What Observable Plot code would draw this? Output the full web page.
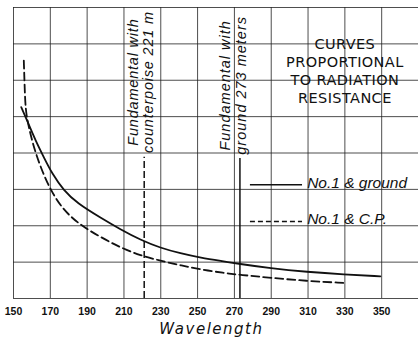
<!DOCTYPE html>
<html><head><meta charset="utf-8">
<script src="https://cdn.jsdelivr.net/npm/d3@7"></script>
<script src="https://cdn.jsdelivr.net/npm/@observablehq/plot@0.6"></script>
<style>body{margin:0;background:#fff}</style>
</head><body><div id="chart"></div>
<script>
// Data
const groundWave = [154.2, 157.4, 162.0, 166.5, 171.0, 177.3, 184.6, 197.3, 208.1, 219.0, 229.8, 240.7, 251.6, 264.2, 271.5, 289.6, 309.5, 329.4, 349.3];
const groundVal  = [5.26, 4.89, 4.34, 3.88, 3.43, 2.97, 2.62, 2.22, 1.90, 1.61, 1.39, 1.24, 1.12, 1.02, 0.96, 0.83, 0.73, 0.66, 0.61];
const cpWave = [155.6, 156.0, 156.5, 158.3, 161.0, 164.7, 170.1, 177.3, 186.4, 197.3, 208.1, 219.0, 229.8, 240.7, 251.6, 264.2, 273.3, 289.6, 309.5, 329.4];
const cpVal  = [6.54, 5.91, 5.17, 4.71, 4.16, 3.61, 2.97, 2.42, 2.01, 1.69, 1.40, 1.18, 1.04, 0.91, 0.80, 0.70, 0.65, 0.57, 0.48, 0.43];
const xTicks = [150, 170, 190, 210, 230, 250, 270, 290, 310, 330, 350];
const gridX = [150, 170, 190, 210, 230, 250, 270, 290, 310, 330, 350, 370];
const gridY = [0, 1, 2, 3, 4, 5, 6, 7, 8];
const seriesNames = ["No.1 & ground", "No.1 & C.P."];
const markerWave = [221, 273];
const markerLabels = ["Fundamental with\ncounterpoise 221 m", "Fundamental with\nground 273 meters"];
const titleText = ["CURVES", "PROPORTIONAL", "TO RADIATION", "RESISTANCE"];
const xLabel = "Wavelength";

const ground = groundWave.map((w, i) => ({w, v: groundVal[i]}));
const cp = cpWave.map((w, i) => ({w, v: cpVal[i]}));

const chart = Plot.plot({
  width: 418, height: 339,
  marginTop: 7, marginBottom: 41, marginLeft: 13, marginRight: 0,
  style: {background: "#fff", color: "#111"},
  x: {domain: [150, 370], label: null},
  y: {domain: [0, 8], axis: null},
  marks: [
    Plot.ruleX(gridX, {stroke: "#222", strokeWidth: 1, strokeOpacity: 0.8}),
    Plot.ruleY(gridY, {stroke: "#222", strokeWidth: 1, strokeOpacity: 0.8}),
    Plot.ruleX([markerWave[0]], {y1: 0, y2: 3.88, stroke: "#111", strokeWidth: 1.5, strokeDasharray: "7,3"}),
    Plot.ruleX([markerWave[1]], {y1: 0, y2: 3.85, stroke: "#111", strokeWidth: 1.5}),
    Plot.text([markerLabels[0]], {x: 219, y: 5.95, rotate: -90, fontSize: 14.5, fontStyle: "italic", fontFamily: "Liberation Sans", lineHeight: 1.05, fill: "#111"}),
    Plot.text([markerLabels[1]], {x: 269, y: 5.86, rotate: -90, fontSize: 14.5, fontStyle: "italic", fontFamily: "Liberation Sans", lineHeight: 1.12, fill: "#111"}),
    Plot.line(ground, {x: "w", y: "v", stroke: "#111", strokeWidth: 1.8, curve: "basis"}),
    Plot.line(cp, {x: "w", y: "v", stroke: "#111", strokeWidth: 1.8, strokeDasharray: "8,4", curve: "basis"}),
    Plot.text([titleText.join("\n")], {x: 330, y: 6.28, fontSize: 14.5, fontFamily: "DejaVu Sans", lineHeight: 1.25, fill: "#111"}),
    Plot.ruleY([3.13], {x1: 278.7, x2: 307, stroke: "#111", strokeWidth: 1.5}),
    Plot.ruleY([2.12], {x1: 278.7, x2: 307, stroke: "#111", strokeWidth: 1.5, strokeDasharray: "5,3"}),
    Plot.text([seriesNames[0]], {x: 309.5, y: 3.13, dy: -2, textAnchor: "start", fontSize: 15.5, fontStyle: "italic", fontFamily: "Liberation Sans", fill: "#111"}),
    Plot.text([seriesNames[1]], {x: 309.5, y: 2.12, dy: -2, textAnchor: "start", fontSize: 15.5, fontStyle: "italic", fontFamily: "Liberation Sans", fill: "#111"}),
    Plot.axisX({ticks: xTicks, tickSize: 0, tickPadding: 9, tickFormat: d => String(d), fontSize: 10.5, fontWeight: "bold", fontFamily: "Liberation Sans", label: null}),
    Plot.text([xLabel], {x: 257.5, frameAnchor: "bottom", dy: 35, fontSize: 15, fontStyle: "italic", fontFamily: "DejaVu Sans", fill: "#111"})
  ]
});
// letter spacing to match the wide hand lettering
const spacing = new Map([
  [markerLabels[0], "0.8px"], [markerLabels[1], "1px"],
  [titleText.join("\n"), "0.4px"], [xLabel, "1.5px"]
]);
d3.select(chart).selectAll("text").each(function() {
  const t = this.textContent;
  for (const [k, v] of spacing) {
    if (t === k || t === k.replace(/\n/g, "")) this.style.letterSpacing = v;
  }
});
document.getElementById("chart").appendChild(chart);
</script>
</body></html>
